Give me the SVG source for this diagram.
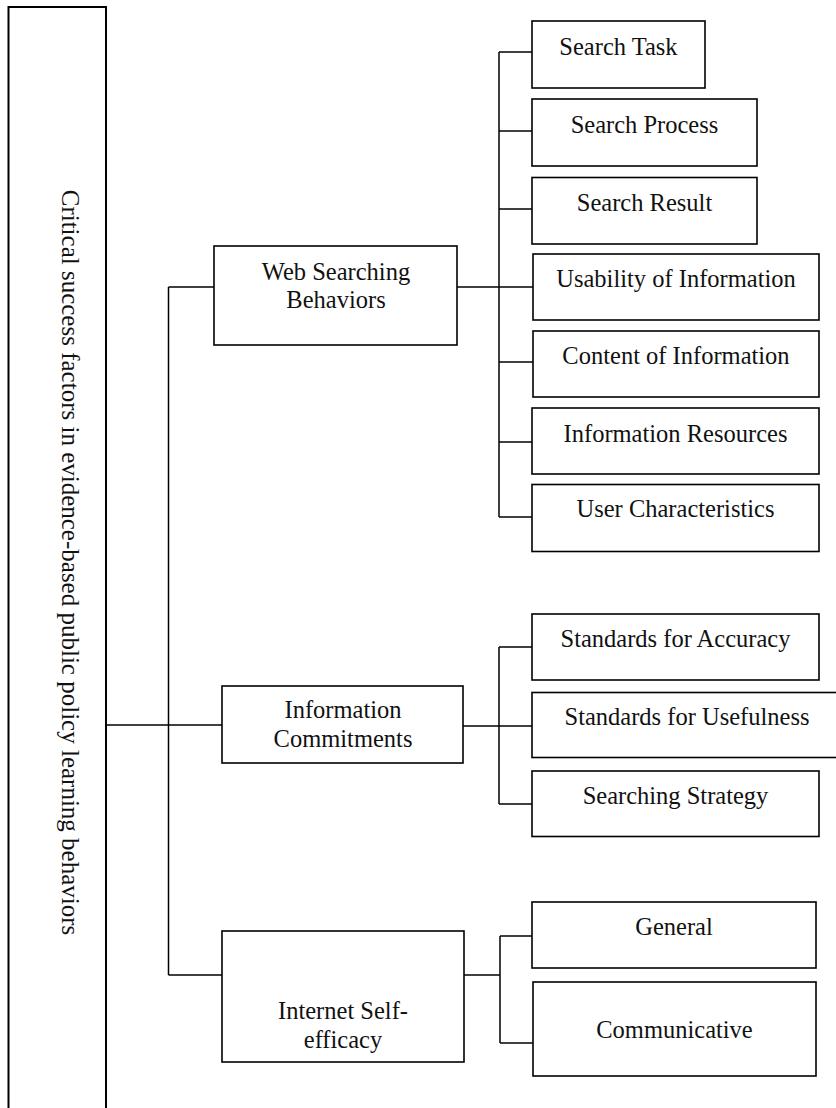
<svg xmlns="http://www.w3.org/2000/svg" width="836" height="1108" viewBox="0 0 836 1108">
<style>
.box{fill:#fff;stroke:#000;stroke-width:1.6}
.big{fill:#fff;stroke:#000;stroke-width:2}
.ln{fill:none;stroke:#000;stroke-width:1.5}
text{font-family:"Liberation Serif","Times New Roman",serif;font-size:24.5px;fill:#111;text-anchor:middle}
.vt{font-size:25px}
</style>
<rect width="836" height="1108" fill="#fff"/>
<g id="connectors">
<path class="ln" d="M168.5 287V975"/>
<path class="ln" d="M168.5 287H214"/>
<path class="ln" d="M106 725H222"/>
<path class="ln" d="M168.5 975H222"/>
<path class="ln" d="M457 287H533"/>
<path class="ln" d="M499 52V517"/>
<path class="ln" d="M499 52H532"/>
<path class="ln" d="M499 131H534"/>
<path class="ln" d="M499 209H534"/>
<path class="ln" d="M499 362H533"/>
<path class="ln" d="M499 442H532"/>
<path class="ln" d="M499 517H532"/>
<path class="ln" d="M463 726H534"/>
<path class="ln" d="M499 647V804"/>
<path class="ln" d="M499 647H532"/>
<path class="ln" d="M499 804H532"/>
<path class="ln" d="M464 975H500"/>
<path class="ln" d="M500 936V1043"/>
<path class="ln" d="M500 936H532"/>
<path class="ln" d="M500 1043H533"/>
</g>
<g id="root">
<rect class="big" x="8.5" y="7" width="97.5" height="1110"/>
<text class="vt" transform="translate(62 562.5) rotate(90)">Critical success factors in evidence-based public policy learning behaviors</text>
</g>
<g id="web-searching">
<rect class="box" x="214" y="246" width="243" height="99"/>
<text x="336" y="280">Web Searching</text>
<text x="336" y="308">Behaviors</text>
</g>
<g id="info-commitments">
<rect class="box" x="222" y="686" width="241" height="77"/>
<text x="343" y="718">Information</text>
<text x="343" y="747">Commitments</text>
</g>
<g id="self-efficacy">
<rect class="box" x="222" y="931" width="242" height="131"/>
<text x="343" y="1019">Internet Self-</text>
<text x="343" y="1048">efficacy</text>
</g>
<g id="search-task">
<rect class="box" x="532" y="21" width="173" height="67"/>
<text x="618.5" y="55">Search Task</text>
</g>
<g id="search-process">
<rect class="box" x="532" y="99" width="225" height="67"/>
<text x="644.5" y="133">Search Process</text>
</g>
<g id="search-result">
<rect class="box" x="532" y="177.5" width="225" height="66.5"/>
<text x="644.5" y="211">Search Result</text>
</g>
<g id="usability">
<rect class="box" x="533" y="254" width="286" height="66"/>
<text x="676" y="287">Usability of Information</text>
</g>
<g id="content">
<rect class="box" x="533" y="331" width="286" height="66"/>
<text x="676" y="364">Content of Information</text>
</g>
<g id="resources">
<rect class="box" x="532" y="408" width="287" height="66"/>
<text x="675.5" y="441.5">Information Resources</text>
</g>
<g id="user-char">
<rect class="box" x="532" y="484.5" width="287" height="67"/>
<text x="675.5" y="517">User Characteristics</text>
</g>
<g id="accuracy">
<rect class="box" x="532" y="614" width="287" height="66"/>
<text x="675.5" y="647">Standards for Accuracy</text>
</g>
<g id="usefulness">
<rect class="box" x="532" y="692.5" width="310" height="65"/>
<text x="687" y="725">Standards for Usefulness</text>
</g>
<g id="strategy">
<rect class="box" x="532" y="771" width="287" height="65.5"/>
<text x="675.5" y="803.5">Searching Strategy</text>
</g>
<g id="general">
<rect class="box" x="532" y="902" width="284" height="66"/>
<text x="674" y="935">General</text>
</g>
<g id="communicative">
<rect class="box" x="533" y="982" width="283" height="94"/>
<text x="674.5" y="1038">Communicative</text>
</g>
</svg>
